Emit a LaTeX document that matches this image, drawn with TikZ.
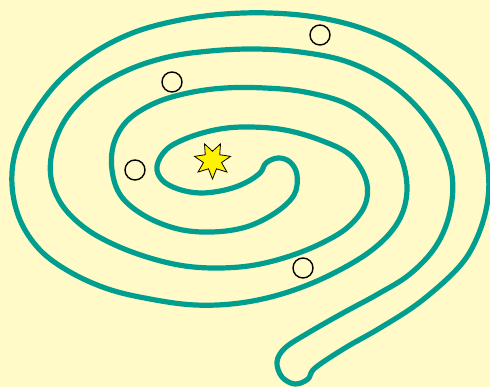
\documentclass[tikz,border=0pt]{standalone}
\usepackage{tikz}
\usetikzlibrary{shapes.geometric}
\definecolor{bgyellow}{RGB}{255,250,200}
\definecolor{spiralteal}{RGB}{0,158,143}

\begin{document}
\begin{tikzpicture}[x=1pt,y=-1pt,
	spiralline/.style={line width=5.2pt, draw=spiralteal, line join=round},
	pebble/.style={circle, draw=black, line width=1.4pt, minimum size=20pt, inner sep=0pt}]
	% Background
	\fill[bgyellow] (0,0) rectangle (490,387);
	\useasboundingbox (0,0) rectangle (490,387);
	
	% Double spiral (one closed outline)
	\draw[spiralline] plot[smooth cycle, tension=0.6] coordinates {
		(278,158) (266,163) (260,173) (245,183) (225,190) (200,193) (178,189)
		(162,180) (157,166) (167,149) (190,137) (220,129) (250,127) (285,130)
		(320,140) (350,155) (366,180) (365,205) (348,227) (322,243) (290,256)
		(255,265) (220,268) (185,266) (150,258) (115,245) (85,228) (62,205)
		(51,178) (53,148) (67,117) (93,90) (128,70) (168,57) (210,51) (255,49)
		(300,52) (345,61) (385,80) (417,107) (440,140) (452,175) (450,212)
		(436,246) (410,274) (378,294) (343,313) (308,333) (285,348) (277,362)
		(282,377) (295,384) (308,379) (315,368) (345,348) (380,328) (420,302)
		(458,268) (476,240) (487,205) (488,170) (478,127) (460,95) (432,68)
		(398,44) (358,27) (315,17) (270,13) (225,14) (180,20) (135,32) (95,52)
		(60,80) (33,115) (16,150) (12,185) (20,220) (40,250) (70,272) (108,289)
		(150,299) (195,305) (240,303) (285,293) (330,275) (372,250) (398,222)
		(407,190) (400,155) (380,128) (347,104) (305,92) (265,88) (225,88)
		(188,93) (155,103) (128,120) (114,143) (112,170) (121,196) (145,216)
		(178,229) (212,232) (246,227) (275,213) (294,195) (297,175) (290,162)
	};
	
	% Pebbles
	\node[pebble] (p1) at (320,35) {};
	\node[pebble] (p2) at (172,82) {};
	\node[pebble] (p3) at (135,170) {};
	\node[pebble] (p4) at (303,268) {};
	
	% Centre star
	\node[star, star points=7, star point ratio=2, minimum size=37pt, inner sep=0pt,
		shape border rotate=180, draw=black, line width=0.8pt, fill=yellow] (centre) at (212.5,160.5) {};
\end{tikzpicture}
\end{document}
